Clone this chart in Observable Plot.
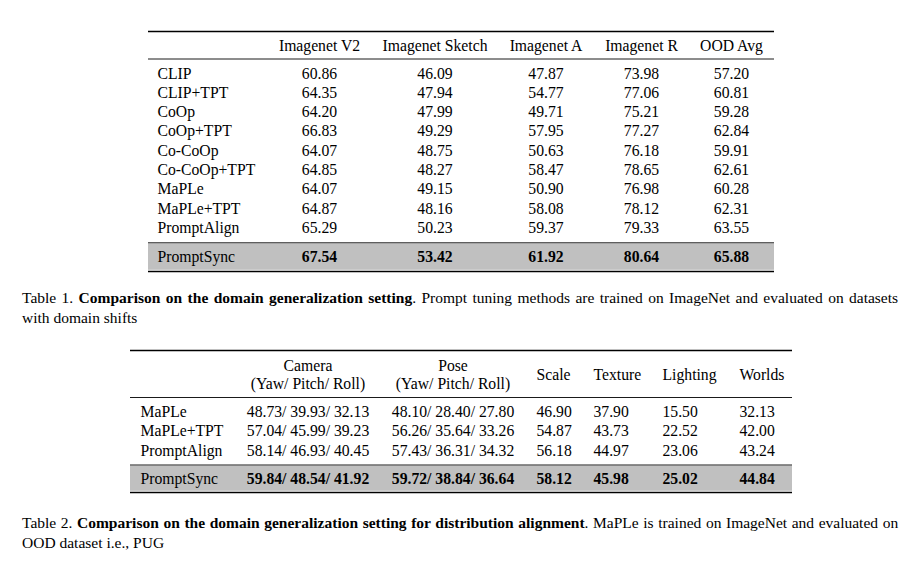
<!DOCTYPE html>
<html>
<head>
<meta charset="utf-8">
<script src="https://cdn.jsdelivr.net/npm/d3@7"></script>
<script src="https://cdn.jsdelivr.net/npm/@observablehq/plot@0.6"></script>
<style>
  html, body { margin: 0; padding: 0; background: #fff; }
  #page { position: relative; width: 918px; height: 561px; overflow: hidden; font-family: "Liberation Serif", "Times New Roman", serif; color: #000; }
  #page svg { position: absolute; left: 0; }
  .cap { position: absolute; left: 22px; width: 876px; font-size: 15.5px; line-height: 20px; text-align: justify; }
  .cap b { font-weight: bold; }
</style>
</head>
<body>
<div id="page"></div>
<script>
// ---------- Table 1 data ----------
const methods1 = ["CLIP", "CLIP+TPT", "CoOp", "CoOp+TPT", "Co-CoOp", "Co-CoOp+TPT", "MaPLe", "MaPLe+TPT", "PromptAlign", "PromptSync"];
const datasets1 = ["Imagenet V2", "Imagenet Sketch", "Imagenet A", "Imagenet R", "OOD Avg"];
const imagenetV2 = [60.86, 64.35, 64.20, 66.83, 64.07, 64.85, 64.07, 64.87, 65.29, 67.54];
const imagenetSketch = [46.09, 47.94, 47.99, 49.29, 48.75, 48.27, 49.15, 48.16, 50.23, 53.42];
const imagenetA = [47.87, 54.77, 49.71, 57.95, 50.63, 58.47, 50.90, 58.08, 59.37, 61.92];
const imagenetR = [73.98, 77.06, 75.21, 77.27, 76.18, 78.65, 76.98, 78.12, 79.33, 80.64];
const oodAvg = [57.20, 60.81, 59.28, 62.84, 59.91, 62.61, 60.28, 62.31, 63.55, 65.88];

// ---------- Table 2 data ----------
const methods2 = ["MaPLe", "MaPLe+TPT", "PromptAlign", "PromptSync"];
const factors2 = ["Camera", "Pose", "Scale", "Texture", "Lighting", "Worlds"];
const subHeader2 = "(Yaw/ Pitch/ Roll)";
const cameraYaw = [48.73, 57.04, 58.14, 59.84];
const cameraPitch = [39.93, 45.99, 46.93, 48.54];
const cameraRoll = [32.13, 39.23, 40.45, 41.92];
const poseYaw = [48.10, 56.26, 57.43, 59.72];
const posePitch = [28.40, 35.64, 36.31, 38.84];
const poseRoll = [27.80, 33.26, 34.32, 36.64];
const scaleVals = [46.90, 54.87, 56.18, 58.12];
const textureVals = [37.90, 43.73, 44.97, 45.98];
const lightingVals = [15.50, 22.52, 23.06, 25.02];
const worldsVals = [32.13, 42.00, 43.24, 44.84];

const caption1 = ["Table 1.", "Comparison on the domain generalization setting", ". Prompt tuning methods are trained on ImageNet and evaluated on datasets with domain shifts"];
const caption2 = ["Table 2.", "Comparison on the domain generalization setting for distribution alignment", ". MaPLe is trained on ImageNet and evaluated on OOD dataset i.e., PUG"];

// ---------- Layout (page pixels) ----------
const FONT = "Liberation Serif";
const FS = 15.7;
const GRAY = "#c0c0c0";
const L1 = { top: 0, h: 282, x1: 148, x2: 774, labelX: 157, colX: [319, 434.5, 545.5, 641, 731],
  topRule: 31, headY: 45.5, headRule: 58.5, row0: 73, step: 19.3, midRule: 242.3, lastY: 256, bottomRule: 271 };
const L2 = { top: 335, h: 170, x1: 130, x2: 792, labelX: 140,
  colX: [307.5, 452.5, 536, 593, 662, 739], anchor: ["middle", "middle", "start", "start", "start", "start"],
  topRule: 350, head1: 365, head2: 383.5, headMid: 374.5, headRule: 397, row0: 411, step: 19.8, midRule: 464.5, lastY: 478, bottomRule: 492 };

const fmt = v => v.toFixed(2);
const page = document.getElementById("page");

function baseOpts(L) {
  return {
    width: 918, height: L.h, margin: 0,
    x: { type: "linear", domain: [0, 918], range: [0, 918], axis: null },
    y: { type: "linear", domain: [L.top, L.top + L.h], range: [0, L.h], axis: null },
    style: { fontFamily: FONT, fontSize: FS + "px", color: "#000", background: "transparent", overflow: "visible" }
  };
}

// ---------- Table 1 ----------
{
  const L = L1;
  const n = methods1.length;
  const rowY = i => i === n - 1 ? L.lastY : L.row0 + i * L.step;
  const series = [imagenetV2, imagenetSketch, imagenetA, imagenetR, oodAvg];
  const cells = [];
  methods1.forEach((m, i) => series.forEach((s, j) => cells.push({ x: L.colX[j], y: rowY(i), t: fmt(s[i]), b: i === n - 1 })));
  const labels = methods1.map((m, i) => ({ x: L.labelX, y: rowY(i), t: m }));
  const heads = datasets1.map((d, j) => ({ x: L.colX[j], y: L.headY, t: d }));
  const band = [{ y1: L.midRule + 1.2, y2: L.bottomRule - 1.2 }];
  const svg = Plot.plot({
    ...baseOpts(L),
    marks: [
      Plot.rect(band, { x1: L.x1, x2: L.x2, y1: "y1", y2: "y2", fill: GRAY }),
      Plot.ruleY([L.topRule, L.bottomRule], { x1: L.x1, x2: L.x2, stroke: "#000", strokeWidth: 1.4 }),
      Plot.ruleY([L.headRule, L.midRule], { x1: L.x1, x2: L.x2, stroke: "#000", strokeWidth: 0.9 }),
      Plot.text(heads, { x: "x", y: "y", text: "t", textAnchor: "middle", fill: "#000" }),
      Plot.text(labels, { x: "x", y: "y", text: "t", textAnchor: "start", fill: "#000" }),
      Plot.text(cells.filter(c => !c.b), { x: "x", y: "y", text: "t", textAnchor: "middle", fill: "#000" }),
      Plot.text(cells.filter(c => c.b), { x: "x", y: "y", text: "t", textAnchor: "middle", fill: "#000", fontWeight: "bold" })
    ]
  });
  svg.style.top = L.top + "px";
  page.appendChild(svg);
}

// ---------- Table 2 ----------
{
  const L = L2;
  const n = methods2.length;
  const rowY = i => i === n - 1 ? L.lastY : L.row0 + i * L.step;
  const triple = (a, b, c, i) => `${fmt(a[i])}/ ${fmt(b[i])}/ ${fmt(c[i])}`;
  const cells = [];
  methods2.forEach((m, i) => {
    const texts = [
      triple(cameraYaw, cameraPitch, cameraRoll, i),
      triple(poseYaw, posePitch, poseRoll, i),
      fmt(scaleVals[i]), fmt(textureVals[i]), fmt(lightingVals[i]), fmt(worldsVals[i])
    ];
    texts.forEach((t, j) => cells.push({ x: L.colX[j], y: rowY(i), t, a: L.anchor[j], b: i === n - 1 }));
  });
  const labels = methods2.map((m, i) => ({ x: L.labelX, y: rowY(i), t: m }));
  const heads = [];
  factors2.forEach((f, j) => {
    if (j < 2) {
      heads.push({ x: L.colX[j], y: L.head1, t: f, a: "middle" });
      heads.push({ x: L.colX[j], y: L.head2, t: subHeader2, a: "middle" });
    } else {
      heads.push({ x: L.colX[j], y: L.headMid, t: f, a: "start" });
    }
  });
  const band = [{ y1: L.midRule + 1.2, y2: L.bottomRule - 1.2 }];
  const textMarks = (arr, extra) => ["start", "middle"].map(a =>
    Plot.text(arr.filter(d => d.a === a), { x: "x", y: "y", text: "t", textAnchor: a, fill: "#000", ...extra }));
  const svg = Plot.plot({
    ...baseOpts(L),
    marks: [
      Plot.rect(band, { x1: L.x1, x2: L.x2, y1: "y1", y2: "y2", fill: GRAY }),
      Plot.ruleY([L.topRule, L.bottomRule], { x1: L.x1, x2: L.x2, stroke: "#000", strokeWidth: 1.4 }),
      Plot.ruleY([L.headRule, L.midRule], { x1: L.x1, x2: L.x2, stroke: "#000", strokeWidth: 0.9 }),
      ...textMarks(heads, {}),
      Plot.text(labels, { x: "x", y: "y", text: "t", textAnchor: "start", fill: "#000" }),
      ...textMarks(cells.filter(c => !c.b), {}),
      ...textMarks(cells.filter(c => c.b), { fontWeight: "bold" })
    ]
  });
  svg.style.top = L.top + "px";
  page.appendChild(svg);
}

// ---------- Captions (each word its own span so no text box spans two lines) ----------
function addCaption(parts, top) {
  const div = document.createElement("div");
  div.className = "cap";
  div.style.top = top + "px";
  const addWords = (str, parent) => {
    str.split(" ").forEach((w, k, arr) => {
      if (w) { const s = document.createElement("span"); s.textContent = w; parent.appendChild(s); }
      if (k < arr.length - 1) parent.appendChild(document.createTextNode(" "));
    });
  };
  addWords(parts[0], div);
  div.appendChild(document.createTextNode(" "));
  const b = document.createElement("b");
  addWords(parts[1], b);
  div.appendChild(b);
  // trailing part starts with "." attached to bold text
  const rest = parts[2];
  const firstSpace = rest.indexOf(" ");
  const punct = document.createElement("span");
  punct.textContent = rest.slice(0, firstSpace);
  div.appendChild(punct);
  div.appendChild(document.createTextNode(" "));
  addWords(rest.slice(firstSpace + 1), div);
  page.appendChild(div);
}
addCaption(caption1, 288);
addCaption(caption2, 513);
</script>
</body>
</html>
